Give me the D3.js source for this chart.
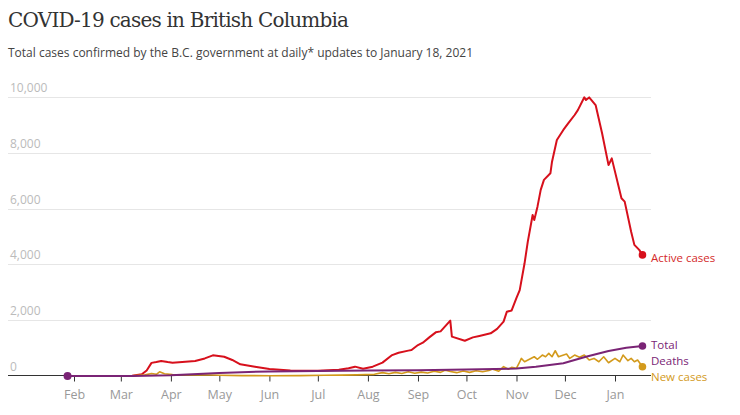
<!DOCTYPE html>
<html>
<head>
<meta charset="utf-8">
<script src="https://cdn.jsdelivr.net/npm/d3@7"></script>
<style>
  body { margin: 0; background: #fff; }
  svg { display: block; }
  .title { font-family: "DejaVu Serif", serif; font-size: 20px; fill: #333; letter-spacing: -0.8px; }
  .subtitle { font-family: "Open Sans", sans-serif; font-size: 12px; fill: #444; }
  .ytick { font-family: "Open Sans", sans-serif; font-size: 12px; fill: #bbb; }
  .xtick { font-family: "Open Sans", sans-serif; font-size: 12.5px; fill: #999; }
  .endlabel { font-family: "Open Sans", sans-serif; font-size: 11.5px; }
</style>
</head>
<body>
<div id="chart"></div>
<script>
// active cases
const activeDates = ['2020-01-28','2020-03-08','2020-03-14','2020-03-17','2020-03-20','2020-03-23','2020-03-26','2020-03-30',
  '2020-04-02','2020-04-08','2020-04-16','2020-04-22','2020-04-27','2020-05-04','2020-05-09','2020-05-14','2020-05-23',
  '2020-06-01','2020-06-14','2020-07-01','2020-07-14','2020-07-20','2020-07-24','2020-07-29','2020-08-04','2020-08-10',
  '2020-08-16','2020-08-20','2020-08-26','2020-08-28','2020-09-01','2020-09-04','2020-09-08','2020-09-12','2020-09-15',
  '2020-09-21','2020-09-22','2020-09-30','2020-10-05','2020-10-09','2020-10-16','2020-10-20','2020-10-24','2020-10-26',
  '2020-10-29','2020-11-01','2020-11-03','2020-11-06','2020-11-08','2020-11-11','2020-11-12','2020-11-14','2020-11-16',
  '2020-11-18','2020-11-22','2020-11-23','2020-11-26','2020-11-30','2020-12-03','2020-12-07','2020-12-09','2020-12-13',
  '2020-12-14','2020-12-16','2020-12-20','2020-12-24','2020-12-28','2020-12-30','2021-01-05','2021-01-07','2021-01-11',
  '2021-01-13','2021-01-16','2021-01-18'];
const activeValues = [0,10,60,200,470,500,540,500,
  475,500,540,630,740,690,575,420,335,
  250,200,190,225,280,335,260,335,480,
  750,835,910,930,1110,1195,1385,1565,1600,
  1985,1410,1265,1385,1435,1530,1690,1950,2300,
  2350,2800,3080,4040,4815,5770,5590,6070,6670,
  7030,7265,7680,8460,8820,9055,9355,9530,9990,
  9890,9985,9710,8700,7560,7800,6370,6250,5170,
  4700,4520,4340];

// cumulative deaths (purple line)
const deathDates = ['2020-01-28','2020-03-08','2020-04-01','2020-05-01','2020-06-01','2020-07-01','2020-08-01','2020-09-01',
  '2020-10-01','2020-11-01','2020-11-13','2020-11-30','2020-12-14','2020-12-28','2021-01-08','2021-01-18'];
const deathValues = [0,0,25,110,165,175,195,210,235,265,335,460,690,895,1015,1075];

// daily new cases (gold line)
const newDates = ['2020-01-28','2020-03-08','2020-03-16','2020-03-20','2020-03-23','2020-03-25','2020-03-28','2020-04-02',
  '2020-04-10','2020-04-20','2020-05-01','2020-05-15','2020-06-01','2020-06-20','2020-07-05','2020-07-15','2020-07-25',
  '2020-08-05','2020-08-10','2020-08-14','2020-08-18','2020-08-22','2020-08-26','2020-08-30','2020-09-03','2020-09-07',
  '2020-09-11','2020-09-15','2020-09-18','2020-09-21','2020-09-25','2020-09-29','2020-10-03','2020-10-07','2020-10-11',
  '2020-10-15','2020-10-17','2020-10-21','2020-10-24','2020-10-27','2020-10-29','2020-11-01','2020-11-03','2020-11-04',
  '2020-11-06','2020-11-09','2020-11-12','2020-11-14','2020-11-17','2020-11-19','2020-11-21','2020-11-23','2020-11-25',
  '2020-11-27','2020-12-02','2020-12-04','2020-12-07','2020-12-10','2020-12-13','2020-12-16','2020-12-19','2020-12-22',
  '2020-12-25','2020-12-28','2021-01-01','2021-01-04','2021-01-06','2021-01-09','2021-01-11','2021-01-13','2021-01-15',
  '2021-01-18'];
const newValues = [0,5,40,90,60,150,80,50,
  35,45,25,15,10,15,25,30,40,
  60,120,80,130,90,150,100,140,110,
  170,130,210,160,120,180,130,190,150,
  200,250,170,335,240,310,280,510,630,
  510,600,690,600,750,690,810,690,905,
  690,790,630,750,670,750,575,630,510,
  690,475,630,510,750,550,630,510,575,
  330];

const yTicks = [0, 2000, 4000, 6000, 8000, 10000];
const monthTicks = ['2020-02-01','2020-03-01','2020-04-01','2020-05-01','2020-06-01','2020-07-01',
  '2020-08-01','2020-09-01','2020-10-01','2020-11-01','2020-12-01','2021-01-01'];

const parse = d3.timeParse('%Y-%m-%d');
const zip = (ds, vs) => ds.map((d, i) => ({ date: parse(d), value: vs[i] }));

const series = [
  { name: 'active', data: zip(activeDates, activeValues), color: '#d7101c', width: 2 },
  { name: 'new', data: zip(newDates, newValues), color: '#d39a1c', width: 1.6 },
  { name: 'deaths', data: zip(deathDates, deathValues), color: '#7a2475', width: 2 }
];

const width = 740, height = 415;
const svg = d3.select('#chart').append('svg').attr('width', width).attr('height', height);

const x = d3.scaleTime()
  .domain([parse('2020-02-01'), parse('2021-01-01')])
  .range([74, 615]);
const y = d3.scaleLinear().domain([0, 10000]).range([376, 97]);

svg.append('text').attr('class', 'title').attr('x', 8).attr('y', 27).text('COVID-19 cases in British Columbia');
svg.append('text').attr('class', 'subtitle').attr('x', 8).attr('y', 57)
  .text('Total cases confirmed by the B.C. government at daily* updates to January 18, 2021');

// gridlines + y labels
const grid = svg.append('g');
grid.selectAll('line').data(yTicks.filter(d => d > 0)).join('line')
  .attr('x1', 8).attr('x2', 651)
  .attr('y1', d => Math.round(y(d)) + 0.5).attr('y2', d => Math.round(y(d)) + 0.5)
  .attr('stroke', '#e6e6e6');
grid.selectAll('text').data(yTicks).join('text')
  .attr('class', 'ytick')
  .attr('x', 10).attr('y', d => y(d) - 5)
  .text(d3.format(','));

// x axis
const xAxis = d3.axisBottom(x)
  .tickValues(monthTicks.map(parse))
  .tickFormat(d3.timeFormat('%b'))
  .tickSize(6).tickPadding(9);
const ax = svg.append('g').attr('transform', `translate(0,${Math.round(y(0)) - 0.5})`).call(xAxis);
ax.select('.domain').remove();
ax.selectAll('.tick line').attr('stroke', '#333');
ax.selectAll('.tick text').attr('class', 'xtick').attr('fill', null);
ax.insert('line', ':first-child').attr('x1', 8).attr('x2', 651).attr('stroke', '#333');

const line = d3.line().x(d => x(d.date)).y(d => y(d.value));

series.forEach(s => {
  svg.append('path').datum(s.data)
    .attr('fill', 'none')
    .attr('stroke', s.color)
    .attr('stroke-width', s.width)
    .attr('stroke-linejoin', 'round')
    .attr('d', line);
});

// start dot + end dots
const deaths = series[2].data;
svg.append('circle').attr('cx', x(deaths[0].date)).attr('cy', y(0)).attr('r', 4).attr('fill', '#7a2475');
series.forEach(s => {
  const last = s.data[s.data.length - 1];
  svg.append('circle').attr('cx', x(last.date)).attr('cy', y(last.value)).attr('r', 3.8).attr('fill', s.color);
});

const endLabels = [
  { text: 'Active cases', yPos: 262, color: '#d42a2a' },
  { text: 'Total', yPos: 348.5, color: '#7a2475' },
  { text: 'Deaths', yPos: 364.5, color: '#7a2475' },
  { text: 'New cases', yPos: 380.5, color: '#d39a1c' }
];
svg.selectAll('.endlabel').data(endLabels).join('text')
  .attr('class', 'endlabel')
  .attr('x', 651).attr('y', d => d.yPos)
  .attr('fill', d => d.color)
  .text(d => d.text);
</script>
</body>
</html>
